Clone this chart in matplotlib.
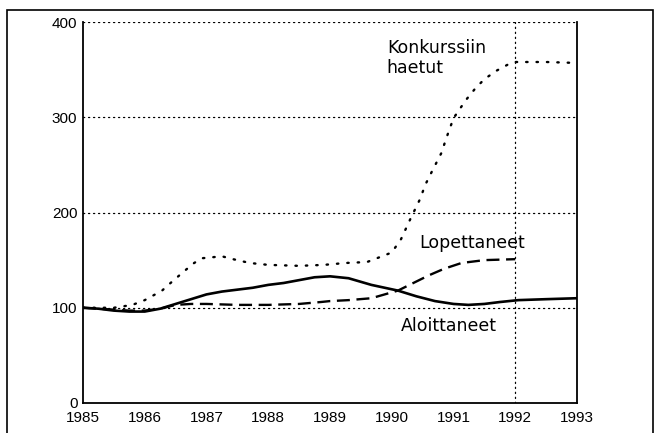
import matplotlib
matplotlib.use("Agg")
from matplotlib import pyplot as plt
from matplotlib.patches import Rectangle

# values (index, 1985 = 100)
konk_years = [1985.0, 1985.25, 1985.5, 1985.8, 1986.0, 1986.28, 1986.4, 1986.65,
              1986.8, 1986.93, 1987.25, 1987.43, 1987.7, 1988.0, 1988.5, 1988.9,
              1989.25, 1989.6, 1990.0, 1990.15, 1990.3, 1990.45, 1990.55, 1990.65,
              1990.8, 1990.9, 1991.0, 1991.2, 1991.35, 1991.5, 1991.7, 1991.9,
              1992.0, 1992.5, 1993.0]
konk_vals = [100, 100, 100, 103, 108, 118, 125, 139,
             147, 152, 154, 151, 147, 145, 144, 145,
             147, 148, 158, 172, 193, 213, 230, 243,
             262, 281, 299, 318, 330, 340, 349, 356,
             358, 358, 357]

alo_years = [1985.0, 1985.25, 1985.5, 1985.75, 1986.0, 1986.25, 1986.5, 1986.75,
             1987.0, 1987.25, 1987.5, 1987.75, 1988.0, 1988.25, 1988.5, 1988.75,
             1989.0, 1989.3, 1989.67, 1990.1, 1990.4, 1990.7, 1991.0, 1991.24,
             1991.5, 1991.75, 1992.05, 1992.5, 1993.0]
alo_vals = [100, 99, 97, 96, 96, 99, 104, 109,
            114, 117, 119, 121, 124, 126, 129, 132,
            133, 131, 124, 118, 112, 107, 104, 103,
            104, 106, 108, 109, 110]

lop_years = [1985.0, 1985.25, 1985.5, 1985.75, 1986.0, 1986.25, 1986.5, 1986.75,
             1987.0, 1987.5, 1988.0, 1988.5, 1988.85, 1989.0, 1989.3, 1989.67,
             1990.1, 1990.35, 1990.6, 1990.85, 1991.13, 1991.5, 1992.0]
lop_vals = [100, 99, 98, 97, 97, 99, 103, 104,
            104, 103, 103, 104, 106, 107, 108, 110,
            118, 126, 134, 141, 147, 150, 151]

x_ticks = [1985, 1986, 1987, 1988, 1989, 1990, 1991, 1992, 1993]
y_ticks = [0, 100, 200, 300, 400]

fig = plt.figure(figsize=(6.58, 4.33), dpi=100)
ax = fig.add_axes([83 / 658, 1 - 403 / 433, (577 - 83) / 658, (403 - 22) / 433])

grid_style = dict(color='black', lw=0.9, ls=(0, (1, 3)), dash_capstyle='round')
for y in y_ticks[1:]:
    ax.axhline(y, **grid_style, zorder=1)
ax.axvline(1992, **grid_style, zorder=1)

ax.plot(konk_years, konk_vals, color='black', lw=1.7, ls=(0, (0.6, 3.8)),
        dash_capstyle='round', zorder=3)
ax.plot(alo_years, alo_vals, color='black', lw=1.9, zorder=3)
ax.plot(lop_years, lop_vals, color='black', lw=1.7, ls=(0, (5.5, 2.8)), zorder=3)

ax.set_xlim(1985, 1993)
ax.set_ylim(0, 400)
ax.set_xticks(x_ticks)
ax.set_yticks(y_ticks)
ax.tick_params(axis='x', length=0, pad=6)
ax.tick_params(axis='y', length=0, pad=4)
for lbl in ax.get_xticklabels() + ax.get_yticklabels():
    lbl.set_fontfamily('Liberation Sans')
    lbl.set_fontsize(11)
ax.spines['top'].set_visible(False)
for s in ['left', 'bottom', 'right']:
    ax.spines[s].set_linewidth(1.3)

lbl_font = dict(fontsize=12.5, family='DejaVu Sans', color='black')
ax.text(1989.92, 382, 'Konkurssiin\nhaetut', va='top', ha='left',
        linespacing=1.1, **lbl_font)
ax.text(1990.45, 177, 'Lopettaneet', va='top', ha='left', **lbl_font)
ax.text(1990.15, 90, 'Aloittaneet', va='top', ha='left', **lbl_font)

# outer frame around the figure
fig.patches.append(Rectangle((7 / 658, -0.05), (653 - 7) / 658, 1.05 - 10 / 433,
                             transform=fig.transFigure, fill=False,
                             edgecolor='black', lw=1.2, clip_on=False))

fig.savefig('out.png', dpi=100)
